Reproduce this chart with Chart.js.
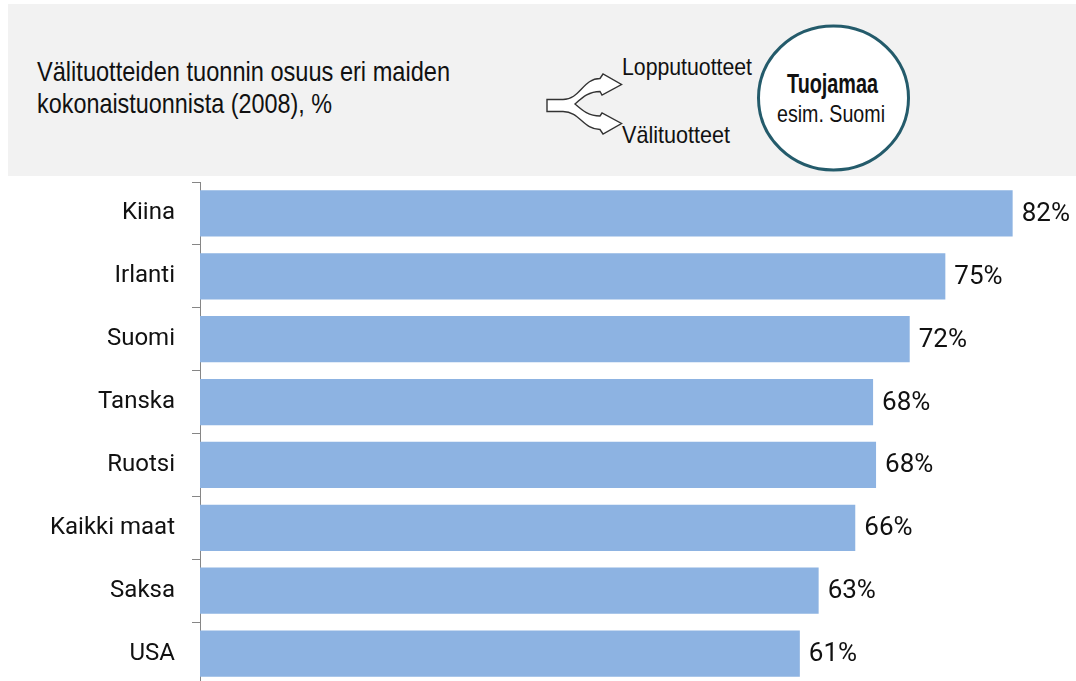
<!DOCTYPE html>
<html>
<head>
<meta charset="utf-8">
<script src="https://cdn.jsdelivr.net/npm/chart.js@4.4.1/dist/chart.umd.min.js"></script>
<style>
  html, body { margin: 0; padding: 0; background: #fff; width: 1076px; height: 681px; overflow: hidden; }
  body { position: relative; font-family: "Liberation Sans", Arial, sans-serif; color: #1a1a1a; }
  #header { position: absolute; left: 8px; top: 4px; width: 1068px; height: 172px; background: #f2f2f2; }
  #art { position: absolute; left: 0; top: 0; }
  #art text { font-family: "Liberation Sans", Arial, sans-serif; fill: #111; }
  #wrap { position: absolute; left: 0; top: 182px; width: 1076px; height: 503px; }
</style>
</head>
<body>
<div id="header"></div>
<svg id="art" width="1076" height="180">
  <text x="37" y="81" font-size="28" textLength="413" lengthAdjust="spacingAndGlyphs">Välituotteiden tuonnin osuus eri maiden</text>
  <text x="37" y="113" font-size="28" textLength="295" lengthAdjust="spacingAndGlyphs">kokonaistuonnista (2008), %</text>
  <path d="M547,99.5 L563,99.5 C580,99.5 583,78.5 600,78.5 L603,74 L621.5,84.5 L602,95 L600,91.5 C589,91.5 583,97 575,104 C583,111 589,116 600,116 L602,113 L621.5,123.5 L603,134 L600,129.5 C583,129.5 580,111.5 563,111.5 L547,111.5 Z"
        fill="#fff" stroke="#333" stroke-width="1.4" stroke-linejoin="miter"/>
  <text x="622" y="75" font-size="24" textLength="130" lengthAdjust="spacingAndGlyphs">Lopputuotteet</text>
  <text x="622" y="143" font-size="24" textLength="108" lengthAdjust="spacingAndGlyphs">Välituotteet</text>
  <ellipse cx="833.5" cy="98" rx="75" ry="72" fill="#fff" stroke="#245b6b" stroke-width="3"/>
  <text x="787" y="93" font-size="27" font-weight="bold" textLength="91" lengthAdjust="spacingAndGlyphs">Tuojamaa</text>
  <text x="777" y="122" font-size="24" textLength="108" lengthAdjust="spacingAndGlyphs">esim. Suomi</text>
</svg>
<div id="wrap"><canvas id="chart"></canvas></div>
<script>
var countries = ['Kiina', 'Irlanti', 'Suomi', 'Tanska', 'Ruotsi', 'Kaikki maat', 'Saksa', 'USA'];
var shares = [82.1, 75.3, 71.7, 68.0, 68.3, 66.2, 62.5, 60.6];

var FONT = 'Roboto, "Liberation Sans", Arial, sans-serif';

/* value labels at bar ends */
var valueLabels = {
  id: 'valueLabels',
  afterDatasetsDraw: function (chart) {
    var ctx = chart.ctx;
    var meta = chart.getDatasetMeta(0);
    ctx.save();
    ctx.font = '26px ' + FONT;
    ctx.fillStyle = '#111';
    ctx.textAlign = 'left';
    ctx.textBaseline = 'middle';
    meta.data.forEach(function (bar, i) {
      ctx.fillText(Math.round(shares[i]) + '%', bar.x + 9, bar.y + 1);
    });
    ctx.restore();
  }
};

new Chart(document.getElementById('chart'), {
  type: 'bar',
  data: {
    labels: countries,
    datasets: [{
      data: shares,
      backgroundColor: '#8db3e2',
      borderWidth: 0,
      categoryPercentage: 1,
      barPercentage: 0.735
    }]
  },
  options: {
    indexAxis: 'y',
    responsive: true,
    maintainAspectRatio: false,
    animation: false,
    layout: { padding: 0 },
    plugins: { legend: { display: false }, tooltip: { enabled: false } },
    scales: {
      x: { display: false, min: 0, max: 88.5 },
      y: {
        afterFit: function (s) { s.width = 200; s.paddingTop = 0; s.paddingBottom = 0; },
        grid: { offset: true, drawOnChartArea: false, tickLength: 8, color: '#868686' },
        border: { color: '#868686', width: 1 },
        ticks: { color: '#111', padding: 17, font: { family: FONT, size: 24 } }
      }
    }
  },
  plugins: [valueLabels]
});
</script>
</body>
</html>
